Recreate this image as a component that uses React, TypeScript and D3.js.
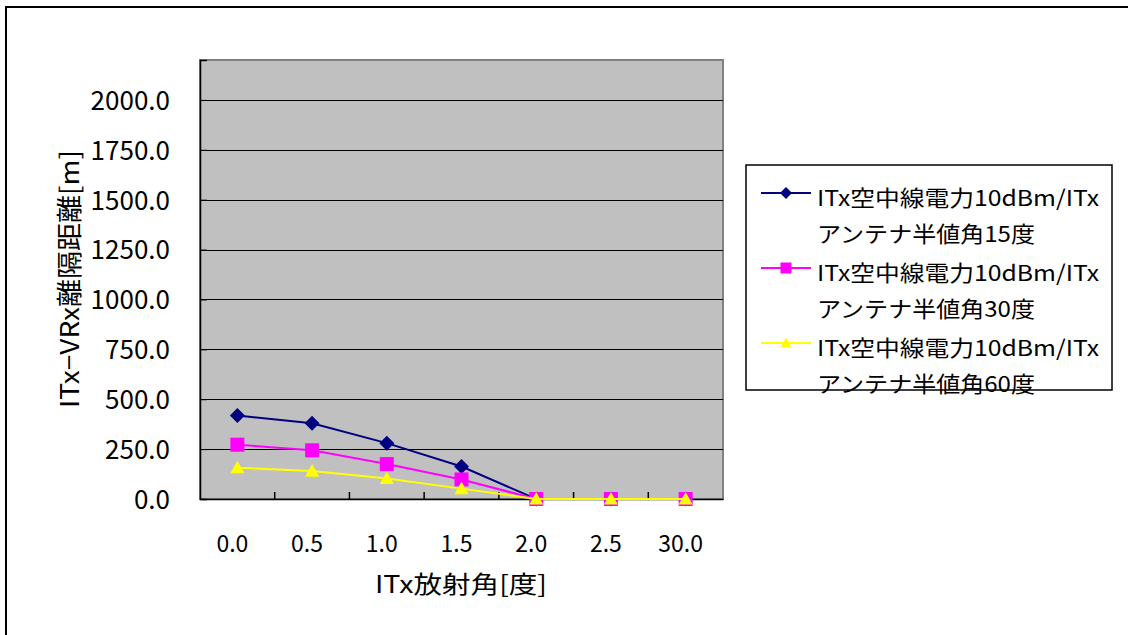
import React, { useRef, useEffect } from 'react';
import * as d3 from 'd3';

const categories = ['0.0', '0.5', '1.0', '1.5', '2.0', '2.5', '30.0'];
const series15 = [418, 380, 280, 163, 0, 0, 0];
const series30 = [272, 244, 175, 98, 0, 0, 0];
const series60 = [157, 140, 103, 52, 0, 0, 0];
const yTicks = [0, 250, 500, 750, 1000, 1250, 1500, 1750, 2000];
const legendNames = [
  ['ITx空中線電力10dBm/ITx', 'アンテナ半値角15度'],
  ['ITx空中線電力10dBm/ITx', 'アンテナ半値角30度'],
  ['ITx空中線電力10dBm/ITx', 'アンテナ半値角60度'],
];

const FONT = '"Noto Sans CJK JP", "Noto Sans", sans-serif';

const App: React.FC = () => {
  const svgRef = useRef<SVGSVGElement | null>(null);

  useEffect(() => {
    const svg = d3.select(svgRef.current);
    svg.selectAll('*').remove();

    const plot = { left: 200, top: 60, right: 723, bottom: 499 };

    // outer frame (only top and left edges show in the picture)
    svg.append('rect')
      .attr('x', 6).attr('y', 7)
      .attr('width', 1200).attr('height', 700)
      .attr('fill', '#fff')
      .attr('stroke', '#000')
      .attr('stroke-width', 2);

    const x = d3.scaleBand<string>()
      .domain(categories)
      .range([plot.left, plot.right]);

    const y = d3.scaleLinear()
      .domain([0, 2200])
      .range([plot.bottom, plot.top]);

    const cx = (i: number) => x(categories[i])! + x.bandwidth() / 2;

    // plot background
    svg.append('rect')
      .attr('x', plot.left).attr('y', plot.top)
      .attr('width', plot.right - plot.left)
      .attr('height', plot.bottom - plot.top)
      .attr('fill', '#c0c0c0')
      .attr('stroke', '#808080')
      .attr('stroke-width', 2);

    // gridlines
    svg.append('g')
      .selectAll('line')
      .data(yTicks.filter(d => d > 0))
      .enter()
      .append('line')
      .attr('x1', plot.left).attr('x2', plot.right)
      .attr('y1', d => Math.round(y(d)) + 0.5)
      .attr('y2', d => Math.round(y(d)) + 0.5)
      .attr('stroke', '#000')
      .attr('stroke-width', 1.2);

    // y axis
    const yAxis = svg.append('g')
      .attr('transform', `translate(${plot.left},0)`)
      .call(d3.axisLeft(y).tickValues(yTicks).tickSize(-7).tickFormat(d3.format('.1f')));
    yAxis.select('.domain').attr('stroke', '#000').attr('stroke-width', 1.5);
    yAxis.selectAll('.tick line').attr('stroke', '#000');
    yAxis.selectAll('.tick text')
      .attr('x', -30)
      .attr('dy', '0.36em')
      .attr('fill', '#000')
      .attr('font-family', FONT)
      .attr('font-size', '26px');

    // x axis
    const xAxis = svg.append('g')
      .attr('transform', `translate(0,${plot.bottom})`)
      .call(d3.axisBottom(x).tickSize(0).tickPadding(0));
    xAxis.select('.domain').attr('stroke', '#000').attr('stroke-width', 1.5);
    xAxis.selectAll('.tick text')
      .attr('y', 45)
      .attr('dx', -5)
      .attr('dy', '0.36em')
      .attr('fill', '#000')
      .attr('font-family', FONT)
      .attr('font-size', '23px');

    // category boundary ticks, pointing up into the plot
    svg.append('g')
      .selectAll('line')
      .data(categories.slice(1))
      .enter()
      .append('line')
      .attr('x1', d => x(d)!).attr('x2', d => x(d)!)
      .attr('y1', plot.bottom).attr('y2', plot.bottom - 7)
      .attr('stroke', '#000')
      .attr('stroke-width', 1.5);

    // axis titles
    svg.append('text')
      .attr('x', 461).attr('y', 582)
      .attr('text-anchor', 'middle')
      .attr('dominant-baseline', 'central')
      .attr('font-family', FONT)
      .attr('font-size', '24px')
      .attr('textLength', 172)
      .attr('lengthAdjust', 'spacingAndGlyphs')
      .text('ITx放射角[度]');

    svg.append('text')
      .attr('transform', 'translate(67,279) rotate(-90)')
      .attr('text-anchor', 'middle')
      .attr('dominant-baseline', 'central')
      .attr('font-family', FONT)
      .attr('font-size', '26px')
      .attr('textLength', 258)
      .attr('lengthAdjust', 'spacingAndGlyphs')
      .text('ITx−VRx離隔距離[m]');

    const line = d3.line<number>()
      .x((_, i) => cx(i))
      .y(d => y(d));

    const styles = [
      { data: series15, color: '#000080', marker: 'diamond' },
      { data: series30, color: '#ff00ff', marker: 'square' },
      { data: series60, color: '#ffff00', marker: 'triangle' },
    ];

    const drawMarker = (g: d3.Selection<SVGGElement, unknown, null, undefined>, kind: string, color: string, px: number, py: number, s: number) => {
      if (kind === 'diamond') {
        g.append('path')
          .attr('d', `M${px},${py - s}L${px + s},${py}L${px},${py + s}L${px - s},${py}Z`)
          .attr('fill', color);
      } else if (kind === 'square') {
        g.append('rect')
          .attr('x', px - s).attr('y', py - s)
          .attr('width', 2 * s).attr('height', 2 * s)
          .attr('fill', color);
      } else {
        g.append('path')
          .attr('d', `M${px},${py - s}L${px + s},${py + s * 0.8}L${px - s},${py + s * 0.8}Z`)
          .attr('fill', color);
      }
    };

    styles.forEach(st => {
      const g = svg.append('g');
      g.append('path')
        .attr('d', line(st.data)!)
        .attr('fill', 'none')
        .attr('stroke', st.color)
        .attr('stroke-width', 2);
      st.data.forEach((v, i) => {
        const size = st.marker === 'diamond' ? 7.5 : 7;
        drawMarker(g, st.marker, st.color, cx(i), y(v), size);
      });
    });

    // legend
    const legend = svg.append('g');
    legend.append('rect')
      .attr('x', 746).attr('y', 165)
      .attr('width', 366).attr('height', 225)
      .attr('fill', '#fff')
      .attr('stroke', '#000')
      .attr('stroke-width', 1.5);

    const lineWidths = [282, 218];
    styles.forEach((st, k) => {
      const ly = 193 + k * 75;
      const lg = legend.append('g');
      lg.append('line')
        .attr('x1', 761).attr('x2', 811)
        .attr('y1', ly).attr('y2', ly)
        .attr('stroke', st.color)
        .attr('stroke-width', 2);
      drawMarker(lg, st.marker, st.color, 786, ly, st.marker === 'diamond' ? 6 : 5.5);
      legendNames[k].forEach((t, j) => {
        lg.append('text')
          .attr('x', 817).attr('y', ly + 3 + j * 36)
          .attr('dominant-baseline', 'central')
          .attr('font-family', FONT)
          .attr('font-size', '22px')
          .attr('textLength', lineWidths[j])
          .attr('lengthAdjust', 'spacingAndGlyphs')
          .text(t);
      });
    });
  }, []);

  return (
    <svg
      ref={svgRef}
      width={1128}
      height={635}
      style={{ position: 'absolute', left: 0, top: 0, background: '#fff' }}
    />
  );
};

export default App;
